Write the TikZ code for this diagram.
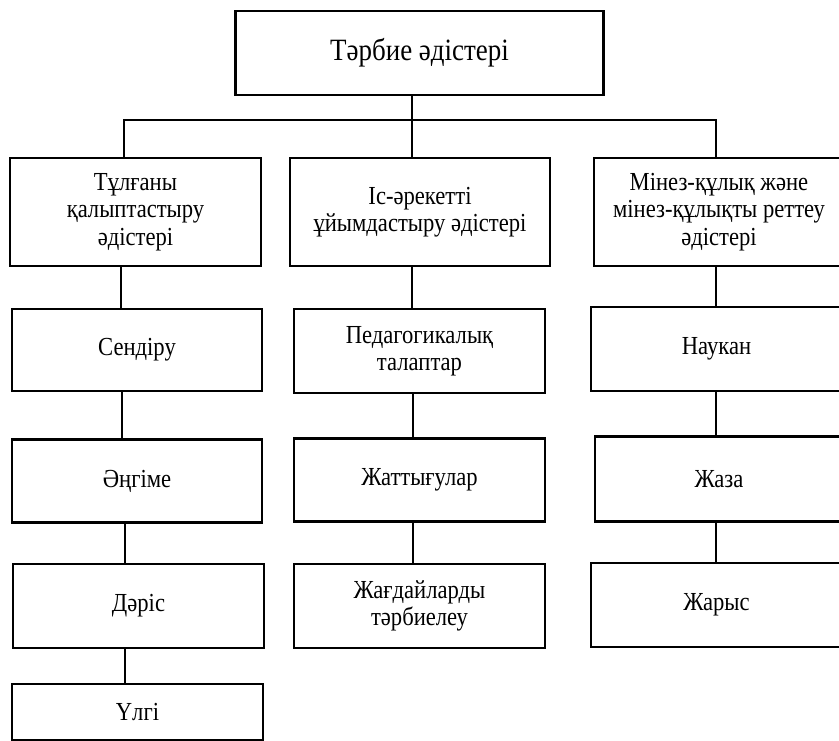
\documentclass[tikz,border=0pt]{standalone}
\usepackage{fontspec}
\setmainfont[FakeStretch=0.87]{Liberation Serif}
\usepackage{tikz}
\usetikzlibrary{positioning}
\tikzset{
  methodbox/.style={draw=black, line width=2.2pt, fill=white, inner sep=2pt, align=center, font=\fontsize{26}{27.5}\selectfont},
  rootbox/.style={methodbox, font=\fontsize{31}{34}\selectfont},
  line/.style={draw=black, line width=1.8pt}
}

\begin{document}
\begin{tikzpicture}[x=1pt,y=-1pt]
  \clip (0,0) rectangle (839,740);
  \fill[white] (0,0) rectangle (839,740);

  \node[rootbox, minimum width=368pt, minimum height=84pt] (root) at (419.5,53) {Тәрбие әдістері};

  \node[methodbox, minimum width=251pt, minimum height=108pt] (pers) at (135.5,212) {Тұлғаны\\қалыптастыру\\әдістері};
  \node[methodbox, minimum width=260pt, minimum height=108pt] (act) at (420,212) {Іс-әрекетті\\ұйымдастыру әдістері};
  \node[methodbox, minimum width=250pt, minimum height=108pt] (beh) at (719,212) {Мінез-құлық және\\мінез-құлықты реттеу\\әдістері};

  \node[methodbox, minimum width=250pt, minimum height=82pt] (sendiru) at (137,350) {Сендіру};
  \node[methodbox, minimum width=251pt, minimum height=84pt] (talap) at (419.5,351) {Педагогикалық\\талаптар};
  \node[methodbox, minimum width=251pt, minimum height=84pt] (naukan) at (716.5,349) {Наукан};

  \node[methodbox, minimum width=250pt, minimum height=83pt] (angime) at (137,481) {Әңгіме};
  \node[methodbox, minimum width=251pt, minimum height=83pt] (zhattyg) at (419.5,480) {Жаттығулар};
  \node[methodbox, minimum width=248pt, minimum height=85pt] (zhaza) at (719,479) {Жаза};

  \node[methodbox, minimum width=251pt, minimum height=84pt] (daris) at (138.5,606) {Дәріс};
  \node[methodbox, minimum width=251pt, minimum height=84pt] (zhagdai) at (419.5,606) {Жағдайларды\\тәрбиелеу};
  \node[methodbox, minimum width=251pt, minimum height=84pt] (zharys) at (716.5,605) {Жарыс};

  \node[methodbox, minimum width=251pt, minimum height=56pt, anchor=north] (ulgi) at (137.5,683) {Үлгі};

  \coordinate (bus) at (412,120);

  \draw[line] ([xshift=-7.5]root.south) -- ([xshift=-7.5]root.south |- act.north);
  \draw[line] ([xshift=-11.5]pers.north) |- (bus) -| ([xshift=-3]beh.north);

  \draw[line] ([xshift=-14.5]pers.south) -- ([xshift=-14.5]pers.south |- sendiru.north);
  \draw[line] ([xshift=-15]sendiru.south) -- ([xshift=-15]sendiru.south |- angime.north);
  \draw[line] ([xshift=-12]angime.south) -- ([xshift=-12]angime.south |- daris.north);
  \draw[line] ([xshift=-13.5]daris.south) -- ([xshift=-13.5]daris.south |- ulgi.north);

  \draw[line] ([xshift=-8]act.south) -- ([xshift=-8]act.south |- talap.north);
  \draw[line] ([xshift=-6.5]talap.south) -- ([xshift=-6.5]talap.south |- zhattyg.north);
  \draw[line] ([xshift=-6.5]zhattyg.south) -- ([xshift=-6.5]zhattyg.south |- zhagdai.north);

  \draw[line] ([xshift=-3]beh.south) -- ([xshift=-3]beh.south |- naukan.north);
  \draw[line] ([xshift=-0.5]naukan.south) -- ([xshift=-0.5]naukan.south |- zhaza.north);
  \draw[line] ([xshift=-3]zhaza.south) -- ([xshift=-3]zhaza.south |- zharys.north);
\end{tikzpicture}
\end{document}
